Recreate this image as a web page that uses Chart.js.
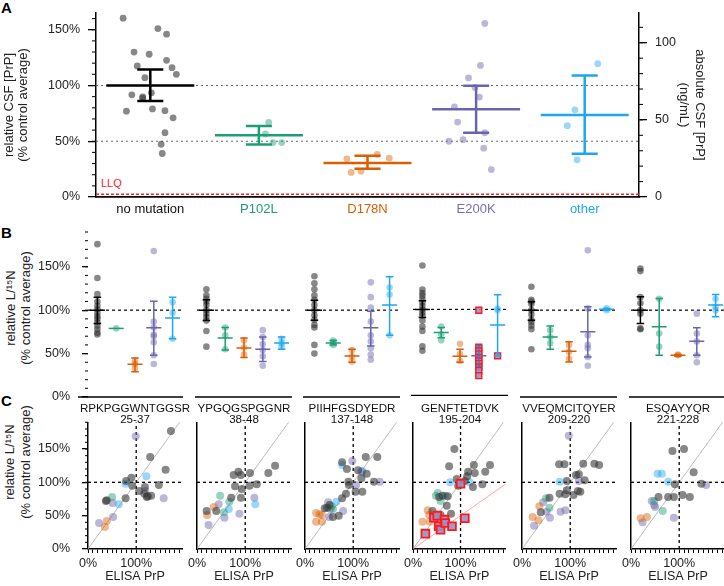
<!DOCTYPE html>
<html><head><meta charset="utf-8">
<script src="https://cdn.jsdelivr.net/npm/chart.js@4.4.1/dist/chart.umd.min.js"></script>
<style>
html,body{margin:0;padding:0;background:#fff}
body{width:724px;height:586px;position:relative;overflow:hidden;font-family:"Liberation Sans",Arial,sans-serif;color:#222}
canvas{position:absolute}
.panel{position:absolute;font-weight:bold;font-size:15px;line-height:15px;color:#000}
.pep{position:absolute;width:130px;text-align:center;font-size:11.6px;line-height:11.2px;color:#111;white-space:nowrap}
.rot{position:absolute;width:200px;text-align:center;font-size:13px;line-height:14px;color:#222;transform:rotate(-90deg);white-space:nowrap}
.llq{position:absolute;font-size:11px;line-height:11px;color:#ff2020}
</style></head><body>
<div class="panel" style="left:1px;top:0px">A</div>
<div class="panel" style="left:1px;top:225px">B</div>
<div class="panel" style="left:1px;top:393px">C</div>
<div class="llq" style="left:101px;top:178px">LLQ</div>
<div class="rot" style="left:-89px;top:301px">relative L/¹⁵N</div>
<div class="rot" style="left:-74px;top:301px">(% control average)</div>
<div class="rot" style="left:-90px;top:455px">relative L/¹⁵N</div>
<div class="rot" style="left:-74px;top:455px">(% control average)</div>
<script>
// ---------------- DATA ----------------
const CATEGORIES = ['no mutation','P102L','D178N','E200K','other'];

// Panel A: relative CSF PrP (% control average), jitter offsets in category units
const A_NOMUT = [160.4,151,146,130,128,122.6,117.5,116,110,107,91.6,93.4,89.8,88.6,77,79,77.4,71,57.7,47.3,39];
const A_NOMUT_JIT = [-0.25,0.07,0.15,-0.15,-0.01,0.15,-0.12,0.2,0.24,-0.05,-0.17,0.01,-0.07,-0.07,-0.22,0.02,0.135,0.21,0.135,0.1,0.11];
const A_P102L = [67,56.5,48.8,48.8];
const A_P102L_JIT = [0.09,0.06,0.13,0.21];
const A_D178N = [34.2,22,23,38.2,34.8];
const A_D178N_JIT = [-0.19,-0.15,-0.06,0.09,0.2];
const A_E200K = [155.6,118,106.8,98.2,89.6,80.9,67.2,57.7,51.4,50,43.8,24.6];
const A_E200K_JIT = [0.08,0.04,-0.07,-0.01,0.03,-0.2,-0.17,0.08,-0.12,-0.25,0.07,0.14];
const A_OTHER = [119.6,78.2,64,33.3];
const A_OTHER_JIT = [0.12,-0.09,-0.16,-0.07];
const A_MEAN = [100,55.4,30.6,78.8,73.5];
const A_LO = [86,47,25.3,57.7,38.7];
const A_HI = [114.3,63.7,36.9,99.7,109];
const LLQ = 2.5;
const ABS_AT_100 = 72.3;   // ng/mL corresponding to 100 %
const A_REF_LINES = [100, 50];

// Panel B / C peptides
const PEPTIDES = ['RPKPGGWNTGGSR','YPGQGSPGGNR','PIIHFGSDYEDR','GENFTETDVK','VVEQMCITQYER','ESQAYYQR'];
const RESIDUES = ['25-37','38-48','137-148','195-204','209-220','221-228'];

// Panel B: values per category [no mutation, P102L, D178N, E200K, other]
const B1 = [[176,137,118.5,110,105,101,97,93,90,86,82,78,74,72],[79],[42,38,33],[168,87,80,72,70,63,48,38],[109,97,67]];
const B1_MEAN = [100,79,37.7,79.6,91], B1_LO = [84.6,null,29,48,67], B1_HI = [115,null,45,110.4,115];
const B2 = [[124,117,113,110,106,100,96,92,88,76,58],[80,71,55],[65,57,49],[77,69,61,54,47,36],[67,62,58]];
const B2_MEAN = [100,68,56.5,55,62.3], B2_LO = [88,54,45.4,41,55], B2_HI = [112,80,68,69,69.2];
const B3 = [[139,131,124,117,112,106,100,94,89,83,80,60,50],[65,63,60],[54,47,41],[132,115,103,87,71,64,56,49,43],[126,118,71]];
const B3_MEAN = [100,62.3,47.3,79.6,105.8], B3_LO = [88.5,60,40,58.8,71.2], B3_HI = [111.5,65,55,98.8,138.5];
const B4 = [[151,123,119,116,112,108,104,100,96,93,87,80,75,57,52],[80,71,64],[60,48,40],[],[101,99]];
const B4_SQ_CAT = [3,3,3,3,3,3,3,3,3,3,4];
const B4_SQ_VAL = [99,56,52,48,44,40,37,33,29,23,46];
const B4_MEAN = [100,73,45.4,46,82], B4_LO = [90.5,67,38.5,34,46], B4_HI = [110,79,53.8,58,117];
const B5 = [[127,112,110,107,100,95,89,86,82,78,55],[77,69,62],[60,52,44],[169,102,71,60,56,46,36],[102,100]];
const B5_MEAN = [100,69.2,52.7,75,101], B5_LO = [88.5,55,40.4,46,100], B5_HI = [109.6,81.9,63.5,103.8,102];
const B6 = [[148,145,115,108,100,96,79,78],[113,73,58],[49,48],[96,73,64,48,40],[113,104,100]];
const B6_MEAN = [100,80.8,48,64.2,105.8], B6_LO = [84.6,48,47,48,92.3], B6_HI = [115.4,113.5,49,79.6,118];

// Panel C: [ELISA PrP %, relative L/15N %] per category
const C1 = [
 [[172,177],[129,138],[161,119],[79,102],[90,107],[92,95],[78,76],[39,73],[37,72],[106,87],[118,93],[117,83],[122,78],[131,80],[124,79],[147,96]],
 [[50,78]],
 [[39,42],[35,33]],
 [[99,169],[23,39],[52,48],[51,69],[119,87],[157,76]],
 [[78,98],[121,109],[64,67]]];
const C2 = [
 [[79,94],[93,90],[109,95],[124,97],[71,77],[91,77],[20,57],[40,57],[76,111],[86,116],[91,111],[110,114],[162,125],[148,114]],
 [[48,80],[67,71],[56,55]],
 [[21,51],[35,63]],
 [[45,67],[24,36],[57,47],[88,53],[119,77]],
 [[66,60],[121,67]]];
const C3 = [
 [[150,138],[126,138],[77,130],[87,120],[110,118],[128,113],[117,106],[143,101],[90,101],[91,96],[105,86],[119,86],[77,76],[85,83],[70,50],[58,48],[46,62],[51,66],[41,61]],
 [[55,64],[58,60]],
 [[23,54],[23,41],[35,41],[35,51],[30,52]],
 [[98,132],[117,116],[155,101],[106,96],[48,70],[79,57],[50,48],[53,60]],
 [[77,126],[119,117],[65,71]]];
const C4 = [
 [[87,150],[76,124],[128,126],[116,116],[130,114],[92,105],[114,109],[146,97],[109,102],[95,95],[162,126],[152,116],[55,78],[62,80],[73,79],[126,93],[71,65],[41,57],[58,51],[80,53]],
 [[48,80],[58,72],[68,80],[52,84]],
 [[20,41],[35,41],[34,51],[31,58]],
 [],
 [[78,100],[119,100]]];
const C4_SQ = [[26,23],[44,47],[51,50],[54,34],[58,29],[66,44],[68,39],[82,34],[109,46],[100,98]];
const C5 = [
 [[77,127],[88,127],[127,128],[150,128],[160,126],[112,111],[118,112],[130,103],[93,102],[93,88],[78,83],[90,82],[107,81],[116,87],[121,86],[57,77],[39,55]],
 [[50,76],[57,62]],
 [[22,48],[36,64],[34,43]],
 [[97,170],[118,102],[44,70],[51,56],[80,56],[90,58],[58,47],[25,35]],
 [[78,101]]];
const C6 = [
 [[86,147],[110,150],[130,115],[91,97],[146,98],[57,78],[77,78],[89,78],[107,81],[122,78]],
 [[48,72],[66,57]],
 [[20,46],[33,48]],
 [[156,96],[43,72],[48,66],[50,63],[89,47],[24,40]],
 [[55,113],[64,113],[77,101]]];
const IDENTITY = [[0,0],[200,200]];
const HALF_LINE = [[0,0],[200,100]];
const REF = 100;

// ---------------- STYLE / LAYOUT ----------------
const PT_FILL = ['rgba(55,55,55,0.6)','rgba(27,158,119,0.45)','rgba(217,95,2,0.45)','rgba(117,112,179,0.5)','rgba(30,167,240,0.45)'];
const LINE_COL = ['#000','#1b9e77','#d95f02','#6a64ad','#1ea7f0'];
const LABEL_COL = ['#111','#1b9e77','#d95f02','#7570b3','#1ea7f0'];
const AX = [88,197,305,413,522,631];
const PW = 94;

Chart.defaults.font.family = '"Liberation Sans", Arial, sans-serif';
Chart.defaults.color = '#222';

const minorTicks = {
  id: 'minorTicks', defaults: {},
  afterDraw(chart, args, opts) {
    if (!opts || !opts.list) return;
    const ctx = chart.ctx;
    opts.list.forEach(m => {
      const s = chart.scales[m.scale];
      ctx.save(); ctx.strokeStyle = '#111'; ctx.lineWidth = 1.1;
      for (let v = m.from; v <= s.max + 1e-9; v += m.step) {
        const p = s.getPixelForValue(v);
        ctx.beginPath();
        if (m.side === 'left') { ctx.moveTo(s.right - m.len, p); ctx.lineTo(s.right, p); }
        else { ctx.moveTo(s.left, p); ctx.lineTo(s.left + m.len, p); }
        ctx.stroke();
      }
      ctx.restore();
    });
  }
};
const baseLine = {
  id: 'baseLine', defaults: {},
  afterDraw(chart, args, o) {
    if (!o || !o.show) return;
    const a = chart.chartArea, ctx = chart.ctx;
    ctx.save(); ctx.strokeStyle = '#000'; ctx.lineWidth = 1.4;
    ctx.beginPath(); ctx.moveTo(a.left - (o.ext || 0), a.bottom); ctx.lineTo(a.right + 1, a.bottom); ctx.stroke();
    ctx.restore();
  }
};
Chart.register(minorTicks, baseLine);

// fixed axis sizes (no automatic label padding)
const fixW = w => s => { s.width = w; s.paddingTop = 0; s.paddingBottom = 0; };
const fixH = h => s => { s.height = h; s.paddingLeft = 0; s.paddingRight = 0; };

function makeCanvas(left, top, w, h) {
  const c = document.createElement('canvas');
  c.width = w; c.height = h;
  c.style.left = left + 'px'; c.style.top = top + 'px';
  c.style.width = w + 'px'; c.style.height = h + 'px';
  document.body.appendChild(c);
  return c;
}
function errSeg(i, m, lo, hi, hw, cw) {
  const pts = [{x:i-hw,y:m},{x:i+hw,y:m},{x:i,y:null}];
  if (lo != null && hi != null && hi > lo) {
    pts.push({x:i,y:lo},{x:i,y:hi},{x:i,y:null},
             {x:i-cw,y:lo},{x:i+cw,y:lo},{x:i,y:null},
             {x:i-cw,y:hi},{x:i+cw,y:hi});
  }
  return pts;
}
function seg(p0, p1, color, w, dash) {
  return {data:[{x:p0[0],y:p0[1]},{x:p1[0],y:p1[1]}], showLine:true, borderColor:color, borderWidth:w,
          borderDash:dash||[], pointRadius:0, backgroundColor:'transparent'};
}
const baseOpts = () => ({animation:false, responsive:false, events:[],
  plugins:{legend:{display:false}, tooltip:{enabled:false}}});

// ---------------- PANEL A ----------------
(function(){
  const vals = [A_NOMUT, A_P102L, A_D178N, A_E200K, A_OTHER];
  const jit = [A_NOMUT_JIT, A_P102L_JIT, A_D178N_JIT, A_E200K_JIT, A_OTHER_JIT];
  const ds = [];
  CATEGORIES.forEach((c,i) => ds.push({data: errSeg(i, A_MEAN[i], A_LO[i], A_HI[i], 0.405, 0.12), showLine:true,
      borderColor: LINE_COL[i], borderWidth:2.5, pointRadius:0}));
  vals.forEach((v,i) => ds.push({data: v.map((y,k)=>({x:i+jit[i][k], y})), pointRadius:3.4,
      backgroundColor: PT_FILL[i], borderWidth:0}));
  A_REF_LINES.forEach(r => ds.push(seg([-0.5,r],[4.5,r],'#666',1,[2,3])));
  ds.push(seg([-0.5,LLQ],[4.5,LLQ],'#ff2020',1.6,[3,2]));
  const o = baseOpts();
  o.layout = {padding:{top:13,left:0,right:0,bottom:0}};
  o.plugins.minorTicks = {list:[{scale:'y',step:10,from:10,len:4,side:'left'},{scale:'y2',step:10,from:10,len:4,side:'right'}]};
  o.scales = {
    x: {type:'linear', min:-0.5, max:4.5, afterFit:fixH(25),
        afterBuildTicks:s=>{s.ticks = CATEGORIES.map((c,i)=>({value:i}));},
        grid:{display:false, drawTicks:false}, border:{display:true,color:'#000',width:1.8},
        ticks:{callback:v=>CATEGORIES[v], color:ctx=>LABEL_COL[ctx.index], font:{size:13}, padding:5, autoSkip:false, maxRotation:0}},
    y: {type:'linear', position:'left', min:0, max:165, afterFit:fixW(96),
        grid:{display:true, drawOnChartArea:false, drawTicks:true, tickLength:8, color:'#000', lineWidth:1.3},
        border:{display:true,color:'#000',width:1.5},
        ticks:{stepSize:50, includeBounds:false, callback:v=>v+'%', font:{size:12.5}, padding:8},
        title:{display:true, text:['relative CSF [PrP]','(% control average)'], font:{size:13, lineHeight:1.1}, padding:{top:2,bottom:0}}},
    y2: {type:'linear', position:'right', min:0, max:165*ABS_AT_100/100, afterFit:fixW(85),
        grid:{display:true, drawOnChartArea:false, drawTicks:true, tickLength:8, color:'#000', lineWidth:1.3},
        border:{display:true,color:'#000',width:1.5},
        ticks:{stepSize:50, includeBounds:false, font:{size:12.5}, padding:8},
        title:{display:true, text:['absolute CSF [PrP]','(ng/mL)'], font:{size:13, lineHeight:1.25}, padding:{top:16,bottom:0}}}
  };
  new Chart(makeCanvas(0,0,724,222), {type:'scatter', data:{datasets:ds}, options:o});
})();

// ---------------- PANEL B ----------------
const B_SETS = [[B1,B1_MEAN,B1_LO,B1_HI],[B2,B2_MEAN,B2_LO,B2_HI],[B3,B3_MEAN,B3_LO,B3_HI],
                [B4,B4_MEAN,B4_LO,B4_HI],[B5,B5_MEAN,B5_LO,B5_HI],[B6,B6_MEAN,B6_LO,B6_HI]];
B_SETS.forEach((set, g) => {
  const [vals, mean, lo, hi] = set;
  const first = g === 0;
  const ds = [];
  mean.forEach((m,i) => ds.push({data: errSeg(i, m, lo[i], hi[i], 0.4, 0.2), showLine:true,
      borderColor: LINE_COL[i], borderWidth:1.5, pointRadius:0}));
  if (g === 3) ds.push({data: B4_SQ_VAL.map((v,k)=>({x:B4_SQ_CAT[k], y:v})), pointStyle:'rect', pointRadius:4.2,
      backgroundColor:'rgba(150,146,200,0.9)', borderColor:'#ff1a1a', borderWidth:1.4});
  vals.forEach((v,i) => ds.push({data: v.map(y=>({x:i, y})), pointRadius:3.3, backgroundColor: PT_FILL[i], borderWidth:0}));
  ds.push(seg([-0.5,REF],[4.5,REF],'#000',1.2,[3,3]));
  const o = baseOpts();
  o.layout = {padding:{top:17, bottom:4, left: first?0:12, right:12}};
  o.plugins.baseLine = {show:true, ext: first?10:2};
  if (first) o.plugins.minorTicks = {list:[{scale:'y',step:10,from:10,len:3,side:'left'}]};
  const yAxis = {type:'linear', min:0, max:190, display:first};
  if (first) Object.assign(yAxis, {afterFit:fixW(88),
        grid:{display:true, drawOnChartArea:false, drawTicks:true, tickLength:6, color:'#000', lineWidth:1.3},
        border:{display:false},
        ticks:{stepSize:50, includeBounds:false, callback:v=>v+'%', font:{size:12.5}, padding:12}});
  o.scales = {
    x: {type:'linear', min:-0.5, max:4.5, display:false},
    y: yAxis
  };
  const left = first ? 0 : AX[g]-12;
  const w = first ? AX[0]+PW+12 : PW+24;
  new Chart(makeCanvas(left, 215, w, 186), {type:'scatter', data:{datasets:ds}, options:o});
});

// peptide labels
PEPTIDES.forEach((p,g) => {
  const d = document.createElement('div');
  d.className = 'pep';
  d.style.left = (AX[g] + PW/2 - 65) + 'px';
  d.style.top = '402px';
  const l1 = document.createElement('div'); l1.textContent = p;
  const l2 = document.createElement('div'); l2.textContent = RESIDUES[g];
  d.appendChild(l1); d.appendChild(l2);
  document.body.appendChild(d);
});

// ---------------- PANEL C ----------------
const C_SETS = [C1,C2,C3,C4,C5,C6];
C_SETS.forEach((pts, g) => {
  const first = g === 0;
  const ds = [];
  if (g === 3) ds.push({data: C4_SQ.map(p=>({x:p[0],y:p[1]})), pointStyle:'rect', pointRadius:5.5,
      backgroundColor:'rgba(150,146,200,0.9)', borderColor:'#ff1a1a', borderWidth:1.8});
  pts.forEach((arr,k) => ds.push({data: arr.map(p=>({x:p[0],y:p[1]})), pointRadius:4,
      backgroundColor: PT_FILL[k], borderWidth:0}));
  ds.push(seg([REF,0],[REF,190],'#000',1.3,[3,3]));
  ds.push(seg([0,REF],[195,REF],'#000',1.3,[3,3]));
  ds.push(seg(IDENTITY[0], IDENTITY[1], '#aaa', 0.8));
  if (g === 3) ds.push(seg(HALF_LINE[0], HALF_LINE[1], 'rgba(255,90,90,0.6)', 0.9));
  const o = baseOpts();
  o.layout = {padding:{top:10.3, bottom:0, left: first?0:16, right:6}};
  const yAxis = first ? {
      type:'linear', min:0, max:190, afterFit:fixW(88),
      grid:{display:true, drawOnChartArea:false, drawTicks:true, tickLength:6, color:'#000', lineWidth:1.3},
      border:{display:true,color:'#000',width:1.5},
      ticks:{stepSize:50, includeBounds:false, callback:v=>v+'%', font:{size:12.5}, padding:12}}
    : {type:'linear', min:0, max:190, afterFit:fixW(0),
      grid:{display:false, drawTicks:false}, ticks:{display:false},
      border:{display:true,color:'#000',width:1.5}};
  if (first) o.plugins.minorTicks = {list:[{scale:'y',step:10,from:10,len:3,side:'left'}]};
  o.scales = {
    x: {type:'linear', min:0, max:195, afterFit:fixH(37),
        grid:{display:true, drawOnChartArea:false, drawTicks:true, tickLength:4, color:'#000', lineWidth:1},
        border:{display:true,color:'#000',width:1.5},
        ticks:{stepSize:10, includeBounds:false, autoSkip:false, maxRotation:0,
               callback:v=>(v===0||v===100)? v+'%' : '', font:{size:12.5}, padding:3},
        title:{display:true, text:'ELISA PrP', font:{size:12.5}, padding:{top:0,bottom:2}}},
    y: yAxis
  };
  const left = first ? 0 : AX[g]-16;
  const w = first ? AX[0]+PW+6 : PW+22;
  new Chart(makeCanvas(left, 412, w, 174), {type:'scatter', data:{datasets:ds}, options:o});
});
</script>
</body></html>
